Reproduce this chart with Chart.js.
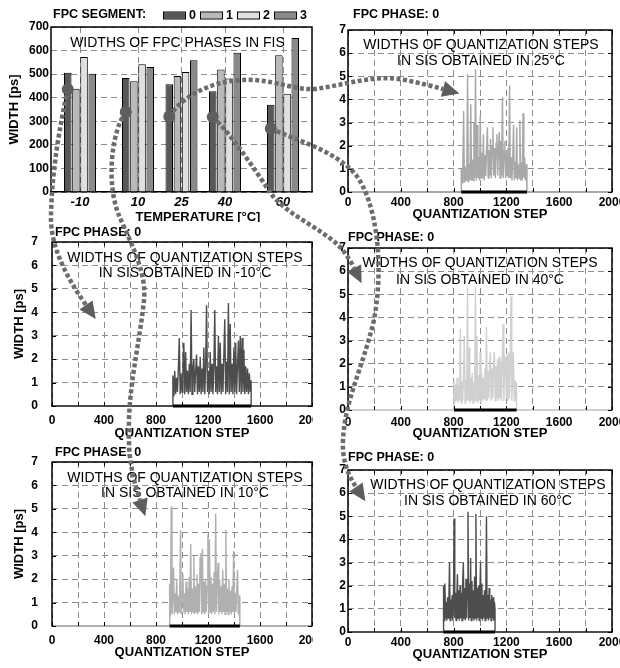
<!DOCTYPE html>
<html><head><meta charset="utf-8">
<script src="https://cdn.jsdelivr.net/npm/chart.js@4/dist/chart.umd.min.js"></script>
<style>
html,body{margin:0;padding:0;background:#fff;}
#wrap{position:relative;width:620px;height:668px;overflow:hidden;background:#fff;}
canvas{position:absolute;}
#overlay{z-index:10;pointer-events:none;}
</style></head><body>
<div id="wrap">
<canvas id="cBar"></canvas>
<canvas id="cM10"></canvas>
<canvas id="cP10"></canvas>
<canvas id="cP25"></canvas>
<canvas id="cP40"></canvas>
<canvas id="cP60"></canvas>
<canvas id="overlay"></canvas>
</div>
<script>
// ---------------- DATA ----------------
const temperatures = [-10, 10, 25, 40, 60];
const tempTickLabels = ['-10', '10', '25', '40', '60'];
const segmentLabels = ['0', '1', '2', '3'];
const seg0 = [506, 484, 457, 427, 370];
const seg1 = [438, 470, 492, 520, 580];
const seg2 = [573, 542, 509, 481, 417];
const seg3 = [502, 530, 559, 591, 653];
const arrowStartWidths = [436, 339, 320, 318, 269];
const quantTickLabels = [0, 400, 800, 1200, 1600, 2000];

// SIS step widths (first quantization step, step spacing, values)
const sisM10Start = 930, sisM10Step = 7;
const sisM10 = [1.3,0.4,1.5,0.5,1.2,0.6,1.6,2.9,0.5,1.4,0.6,1.7,2.7,0.5,2.3,0.6,1.5,0.5,1.8,0.6,
  4.1,0.5,1.6,2.0,0.6,1.5,2.2,0.5,1.7,0.6,2.1,0.5,1.6,0.6,2.5,0.5,1.7,4.3,0.6,1.5,
  0.5,2.3,0.6,1.8,0.5,1.6,4.1,0.6,1.7,0.5,3.0,0.6,2.7,0.5,1.8,0.6,2.2,3.7,0.5,1.9,
  0.6,4.4,0.5,3.5,0.6,1.8,0.5,2.5,0.6,2.7,0.5,1.7,2.8,0.6,3.0,0.5,2.9,0.6,2.4,0.5,
  1.7,0.6,1.6,0.5,1.4,0.6,1.1];
const sisP10Start = 905, sisP10Step = 6;
const sisP10 = [1.8,0.4,5.1,0.5,1.2,2.5,0.5,1.4,0.6,2.0,0.5,1.3,0.6,1.7,4.1,0.5,1.5,2.2,0.6,1.4,
  0.5,1.9,0.6,1.6,0.5,2.1,0.6,3.5,0.5,1.6,0.6,3.0,0.5,1.7,0.6,2.2,0.5,1.8,0.6,2.9,
  3.1,0.5,3.3,0.6,1.9,0.5,2.0,0.6,1.7,3.9,0.5,3.7,0.6,2.1,0.5,1.8,0.6,2.3,0.5,4.8,
  0.6,1.9,2.7,0.5,2.0,0.6,1.7,0.5,2.4,0.6,1.8,0.5,4.1,0.6,1.6,0.5,2.0,0.6,1.5,0.5,
  1.7,0.6,3.2,0.5,1.4,0.6,1.6,2.4,0.5,1.3,0.9];
const sisP25Start = 858, sisP25Step = 6;
const sisP25 = [1.0,0.4,1.2,3.5,0.4,1.1,0.5,1.3,5.1,0.4,1.2,0.5,3.8,0.5,1.4,0.5,3.0,0.6,5.3,0.5,
  2.9,0.6,1.5,0.5,3.3,0.6,1.7,0.6,2.5,0.5,1.6,0.7,1.9,2.8,0.6,1.8,0.7,2.3,0.6,2.0,
  2.8,0.7,1.9,0.6,2.1,2.5,0.7,1.9,2.6,0.6,2.2,0.7,4.1,0.6,1.8,2.2,0.6,1.7,0.7,1.9,
  0.6,4.6,0.6,1.5,0.5,1.4,2.9,0.5,1.3,0.6,2.8,0.5,1.2,0.6,3.1,0.5,1.3,0.5,3.4,0.6,
  1.5,0.5,1.2,0.8];
const sisP40Start = 803, sisP40Step = 6;
const sisP40 = [1.3,0.3,1.1,0.4,1.4,0.3,1.0,0.4,3.5,0.3,1.2,0.4,1.5,3.2,0.3,1.3,0.4,5.3,0.4,2.7,
  0.3,1.4,0.4,1.6,0.3,1.2,0.4,5.3,0.4,3.2,0.3,1.5,0.4,2.5,0.3,1.6,0.4,1.4,0.5,1.8,
  0.4,3.6,0.4,1.7,0.5,1.9,2.5,0.4,1.8,0.5,2.0,2.5,0.4,1.9,0.5,2.2,0.4,2.3,0.5,2.1,
  0.4,2.4,3.7,0.4,2.3,2.2,0.5,2.4,0.4,2.5,0.5,2.1,4.9,0.4,1.6,2.5,0.4,1.3,0.5,1.2];
const sisP60Start = 724, sisP60Step = 5;
const sisP60 = [2.0,0.5,2.1,0.6,1.3,0.5,1.5,0.6,1.2,3.0,0.5,1.4,0.6,1.6,0.5,1.3,4.9,0.6,1.7,0.5,
  1.4,2.5,0.6,1.8,0.5,2.0,0.6,1.7,0.5,2.2,3.0,0.6,1.9,0.5,2.3,0.6,2.0,5.2,0.5,2.1,
  0.6,3.2,0.5,2.2,0.6,1.8,0.5,2.4,0.6,5.1,0.5,1.9,0.6,2.0,0.5,1.7,3.0,0.6,2.1,0.5,
  1.6,0.6,1.8,0.5,1.5,5.0,0.6,1.6,0.5,1.9,0.6,1.4,0.5,1.6,0.6,1.5,0.5,1.3,1.0];

// ---------------- SETUP ----------------
const FONT = "'Liberation Sans', Arial, Helvetica, sans-serif";
Chart.defaults.font.family = FONT;
Chart.defaults.color = '#000';
Chart.defaults.animation = false;
Chart.defaults.responsive = false;
Chart.defaults.maintainAspectRatio = false;
Chart.defaults.devicePixelRatio = 1;
Chart.defaults.plugins.legend.display = false;
Chart.defaults.plugins.tooltip.enabled = false;

const GRID = '#8c8c8c';
const DASH = [6, 4];

function place(id, b) {
  const c = document.getElementById(id);
  c.width = b.cw; c.height = b.ch;
  c.style.left = b.cl + 'px'; c.style.top = b.ct + 'px';
  c.style.width = b.cw + 'px'; c.style.height = b.ch + 'px';
  return c;
}

const decor = {
  id: 'decor',
  afterDatasetsDraw(chart, args, o) {
    const ctx = chart.ctx, a = chart.chartArea;
    ctx.save();
    if (o.innerTicks) {
      ctx.strokeStyle = '#000'; ctx.lineWidth = 1; ctx.setLineDash([]);
      ctx.beginPath();
      chart.scales.x.ticks.forEach(t => {
        const px = Math.round(chart.scales.x.getPixelForValue(t.value)) + 0.5;
        ctx.moveTo(px, a.bottom); ctx.lineTo(px, a.bottom - 4);
        ctx.moveTo(px, a.top); ctx.lineTo(px, a.top + 4);
      });
      chart.scales.y.ticks.forEach(t => {
        const py = Math.round(chart.scales.y.getPixelForValue(t.value)) + 0.5;
        ctx.moveTo(a.left, py); ctx.lineTo(a.left + 4, py);
        ctx.moveTo(a.right, py); ctx.lineTo(a.right - 4, py);
      });
      ctx.stroke();
    }
    // frame
    ctx.setLineDash([]);
    ctx.strokeStyle = '#000'; ctx.lineWidth = 1.5;
    ctx.beginPath();
    ctx.moveTo(a.left, a.bottom); ctx.lineTo(a.left, a.top);
    ctx.lineTo(a.right, a.top); ctx.lineTo(a.right, a.bottom);
    ctx.stroke();
    ctx.fillStyle = '#000';
    if (o.label) {
      ctx.font = 'bold 12.5px ' + FONT;
      ctx.textAlign = 'left'; ctx.textBaseline = 'middle';
      ctx.fillText(o.label.text, a.left + o.label.dx, a.top + o.label.dy);
    }
    if (o.lines) {
      ctx.font = '14px ' + FONT;
      ctx.textAlign = 'center'; ctx.textBaseline = 'middle';
      o.lines.forEach((s, i) => ctx.fillText(s, (a.left + a.right) / 2 + o.linesDx, a.top + o.linesDy[i]));
    }
    if (o.xTitle) {
      ctx.font = 'bold 13px ' + FONT;
      ctx.textAlign = 'center'; ctx.textBaseline = 'middle';
      ctx.fillText(o.xTitle.text, o.xTitle.x, a.bottom + o.xTitle.dy);
    }
    if (o.legend) {
      const L = o.legend;
      ctx.font = 'bold 12.5px ' + FONT;
      ctx.textAlign = 'left'; ctx.textBaseline = 'middle';
      chart.data.datasets.forEach((ds, i) => {
        const x = L.x0 + i * L.step;
        ctx.fillStyle = ds.backgroundColor;
        ctx.fillRect(x, L.y - 3, 22, 6);
        ctx.strokeStyle = '#000'; ctx.lineWidth = 1;
        ctx.strokeRect(x + 0.5, L.y - 3.5, 22, 7);
        ctx.fillStyle = '#000';
        ctx.fillText(ds.label, x + 26, L.y + 0.5);
      });
    }
    ctx.restore();
  }
};

// ---------------- BAR CHART ----------------
const segValues = [seg0, seg1, seg2, seg3];
const segColors = ['#585858', '#b9b9b9', '#e0e0e0', '#8a8a8a'];
const barBox = {cl: 0, ct: 0, cw: 313, ch: 222, area: {l: 51, t: 27, r: 312, b: 192}};
const barChart = new Chart(place('cBar', barBox), {
  type: 'bar',
  data: {
    datasets: segmentLabels.map((lab, k) => ({
      label: lab,
      data: temperatures.map((t, i) => ({x: t, y: segValues[k][i]})),
      backgroundColor: segColors[k], borderColor: '#000', borderWidth: 1,
      categoryPercentage: 0.75, barPercentage: 0.92
    }))
  },
  options: {
    layout: {padding: {top: 27, right: 1, bottom: 0, left: 0}},
    scales: {
      x: {
        type: 'linear', min: -20, max: 70, offset: false,
        afterBuildTicks: s => { s.ticks = temperatures.map(v => ({value: v})); },
        ticks: {callback: (v, i) => tempTickLabels[i], autoSkip: false, maxRotation: 0, padding: 3,
                font: {size: 13, weight: 'bold', style: 'italic'}},
        grid: {color: GRID, lineWidth: 1, drawTicks: false, offset: false},
        border: {display: true, color: '#000', width: 1.5, dash: DASH},
        afterFit: s => { s.height = 30; s.paddingLeft = 0; s.paddingRight = 0; }
      },
      y: {
        min: 0, max: 700,
        ticks: {stepSize: 100, padding: 2, font: {size: 12, weight: 'bold'}},
        grid: {color: GRID, lineWidth: 1, drawTicks: false},
        border: {display: false, dash: DASH},
        title: {display: true, text: 'WIDTH [ps]', font: {size: 13, weight: 'bold', lineHeight: 1.2},
                padding: {top: 6.2, bottom: 0}},
        afterFit: s => { s.width = 51; s.paddingTop = 0; s.paddingBottom = 0; }
      }
    },
    plugins: {
      decor: {
        label: {text: 'FPC SEGMENT:', dx: 2, dy: -12},
        lines: ['WIDTHS OF FPC PHASES IN FIS'], linesDy: [16], linesDx: -4,
        xTitle: {text: 'TEMPERATURE [\u00B0C]', x: 198, dy: 25},
        legend: {x0: 163, step: 37, y: 15.5}
      }
    }
  },
  plugins: [decor]
});

// ---------------- SIS LINE CHARTS ----------------
function sisChart(id, box, cfg) {
  const a = box.area;
  const xH = cfg.titleOff + 7.8;
  const padBottom = Math.max(0, box.ct + box.ch - a.b - xH);
  const yW = a.l - box.cl;
  const lastX = cfg.start + (cfg.values.length - 1) * cfg.step;
  const series = [{x: cfg.start, y: 0}]
    .concat(cfg.values.map((v, i) => ({x: cfg.start + i * cfg.step, y: v})))
    .concat([{x: lastX, y: 0}]);
  return new Chart(place(id, box), {
    type: 'line',
    data: {
      datasets: [
        {label: 'range', data: [{x: cfg.start, y: 0}, {x: lastX, y: 0}], borderColor: '#000',
         borderWidth: 3, pointRadius: 0, clip: false, order: 0},
        {label: 'width', data: series, borderColor: cfg.color, borderWidth: 1.4,
         pointRadius: 0, tension: 0, clip: false, order: 1}
      ]
    },
    options: {
      layout: {padding: {top: a.t - box.ct, right: box.cl + box.cw - a.r, bottom: padBottom, left: 0}},
      scales: {
        x: {
          type: 'linear', min: 0, max: 2000,
          ticks: {stepSize: 200, autoSkip: false, maxRotation: 0, padding: cfg.labelOff - 7,
                  font: {size: 12, weight: 'bold'},
                  callback: v => quantTickLabels.includes(v) ? String(v) : ''},
          grid: {color: GRID, lineWidth: 1, drawTicks: false},
          border: {display: true, color: cfg.color, width: 2, dash: DASH},
          title: {display: true, text: 'QUANTIZATION STEP',
                  font: {size: 13, weight: 'bold', lineHeight: 1.2}, padding: 0},
          afterFit: s => { s.height = xH; s.paddingLeft = 0; s.paddingRight = 0; }
        },
        y: {
          min: 0, max: 7,
          ticks: {stepSize: 1, padding: cfg.yPad, font: {size: 12, weight: 'bold'}},
          grid: {color: GRID, lineWidth: 1, drawTicks: false},
          border: {display: false, dash: DASH},
          title: cfg.yTitle
            ? {display: true, text: 'WIDTH [ps]', font: {size: 13, weight: 'bold', lineHeight: 1.2},
               padding: {top: cfg.yTitle - 7.8, bottom: 0}}
            : {display: false},
          afterFit: s => { s.width = yW; s.paddingTop = 0; s.paddingBottom = 0; }
        }
      },
      plugins: {
        decor: {
          innerTicks: true,
          label: {text: 'FPC PHASE: 0', dx: cfg.phaseDx, dy: cfg.phaseDy},
          lines: ['WIDTHS OF QUANTIZATION STEPS', 'IN SIS OBTAINED IN ' + cfg.temp + '\u00B0C'],
          linesDy: cfg.linesDy, linesDx: cfg.linesDx
        }
      }
    },
    plugins: [decor]
  });
}

sisChart('cM10', {cl: 0, ct: 222, cw: 313, ch: 222, area: {l: 52, t: 242, r: 312, b: 406}},
  {start: sisM10Start, step: sisM10Step, values: sisM10, color: '#4d4d4d', temp: '-10',
   labelOff: 14, titleOff: 27, yPad: 14, yTitle: 19, phaseDx: 3, phaseDy: -9, linesDy: [16, 31], linesDx: 3});
sisChart('cP10', {cl: 0, ct: 444, cw: 313, ch: 224, area: {l: 52, t: 462, r: 312, b: 626}},
  {start: sisP10Start, step: sisP10Step, values: sisP10, color: '#b0b0b0', temp: '10',
   labelOff: 14, titleOff: 26, yPad: 14, yTitle: 19, phaseDx: 3, phaseDy: -9, linesDy: [16, 31], linesDx: 3});
sisChart('cP25', {cl: 320, ct: 0, cw: 300, ch: 222, area: {l: 348, t: 30, r: 612, b: 192}},
  {start: sisP25Start, step: sisP25Step, values: sisP25, color: '#a8a8a8', temp: '25',
   labelOff: 10, titleOff: 22, yPad: 2, yTitle: 0, phaseDx: 5, phaseDy: -15, linesDy: [15, 31], linesDx: 1});
sisChart('cP40', {cl: 320, ct: 222, cw: 300, ch: 224, area: {l: 348, t: 248, r: 612, b: 410}},
  {start: sisP40Start, step: sisP40Step, values: sisP40, color: '#d0d0d0', temp: '40',
   labelOff: 12, titleOff: 23, yPad: 2, yTitle: 0, phaseDx: 0, phaseDy: -10, linesDy: [15, 32], linesDx: 0});
sisChart('cP60', {cl: 320, ct: 446, cw: 300, ch: 222, area: {l: 348, t: 470, r: 612, b: 632}},
  {start: sisP60Start, step: sisP60Step, values: sisP60, color: '#4d4d4d', temp: '60',
   labelOff: 10, titleOff: 22, yPad: 2, yTitle: 0, phaseDx: 0, phaseDy: -12, linesDy: [15, 31], linesDx: 8});

// ---------------- ANNOTATION ARROWS ----------------
const arrowPaths = [
  [[60,125, 52,170, 51,215], [50,245, 65,275, 86,305]],
  [[112,130, 106,180, 118,213], [128,238, 147,270, 144,300], [140,340, 130,380, 129,420], [128,450, 130,470, 140,500]],
  [[185,92, 220,78, 255,80], [280,82, 295,90, 315,89], [345,85, 375,74, 405,80], [420,83, 432,86, 443,89]],
  [[232,135, 255,170, 272,195], [288,215, 320,228, 338,245], [345,252, 350,260, 354,268]],
  [[295,140, 335,150, 356,175], [375,200, 385,260, 374,320], [362,370, 345,400, 343,440], [342,460, 348,475, 356,487]]
];
(function drawArrows() {
  const cv = document.getElementById('overlay');
  cv.width = 620; cv.height = 668;
  cv.style.left = '0px'; cv.style.top = '0px';
  const ctx = cv.getContext('2d');
  const meta = barChart.getDatasetMeta(0);
  const ys = barChart.scales.y;
  arrowPaths.forEach((segs, i) => {
    const sx = meta.data[i].x, sy = ys.getPixelForValue(arrowStartWidths[i]);
    ctx.save();
    ctx.strokeStyle = '#6c6c6c'; ctx.lineWidth = 4.5; ctx.setLineDash([4, 2.5]);
    ctx.beginPath(); ctx.moveTo(sx, sy);
    segs.forEach(c => ctx.bezierCurveTo(c[0], c[1], c[2], c[3], c[4], c[5]));
    ctx.stroke();
    ctx.setLineDash([]);
    const last = segs[segs.length - 1];
    const ex = last[4], ey = last[5];
    const ang = Math.atan2(ey - last[3], ex - last[2]);
    const dx = Math.cos(ang), dy = Math.sin(ang);
    ctx.fillStyle = '#5e5e5e';
    ctx.beginPath();
    ctx.moveTo(ex + dx * 17, ey + dy * 17);
    ctx.lineTo(ex - dy * 8, ey + dx * 8);
    ctx.lineTo(ex + dy * 8, ey - dx * 8);
    ctx.closePath(); ctx.fill();
    ctx.beginPath(); ctx.arc(sx, sy, 6, 0, Math.PI * 2); ctx.fill();
    ctx.restore();
  });
})();
</script>
</body></html>
